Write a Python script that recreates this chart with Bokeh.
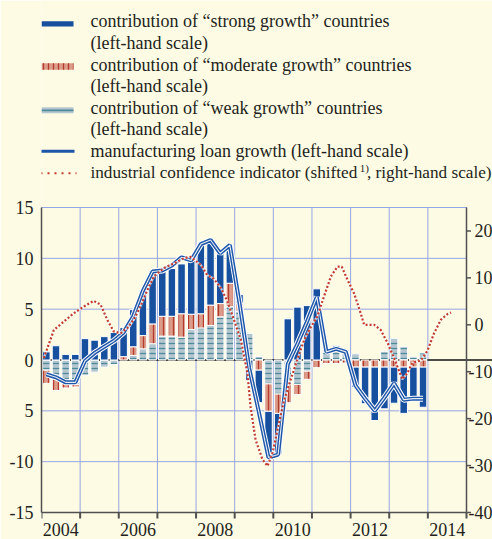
from bokeh.plotting import figure
from bokeh.models import Range1d, FixedTicker, Span, ColumnDataSource
from bokeh.embed import file_html
from bokeh.resources import INLINE
from bokeh.core.properties import value

# ---------------- data ----------------
years = list(range(2004, 2016))
year_labels = ["2004", "2006", "2008", "2010", "2012", "2014"]
n_quarters = 40  # 2004Q1 .. 2013Q4

strong = [0.8, 1.4, 0.55, 0.55, 2.1, 1.95, 2.3, 2.7, 2.85, 3.65,
          4.45, 5.2, 4.45, 4.7, 4.9, 5.6, 6.85, 6.2, 4.95, 3.8,
          0.85, -2.0, -3.2, -4.1, -4.0, 4.05, 5.2, 5.35, 7.0, 0.3,
          0.3, 0.1, -2.0, -3.6, -5.25, -4.1, -3.55, -4.55, -2.9, -3.95]
moderate = [-1.3, -1.15, -0.45, -0.25, 0, 0, 0, 0, 0.33, 0.85,
            1.3, 1.95, 1.95, 1.95, 2.3, 1.5, 1.4, 2.0, 1.3, 2.3,
            0.8, 0, -1.0, -2.7, -1.9, -1.8, -1.0, -0.8, -0.75, -0.35,
            -0.35, -0.3, -0.7, -0.7, -0.7, -0.7, -0.7, -0.7, -0.7, -0.7]
weak = [-1.0, -1.85, -2.3, -2.4, -1.5, -1.2, -0.7, -0.45, 0, 0.45,
        1.1, 1.6, 2.35, 2.35, 2.25, 3.0, 3.15, 3.4, 4.25, 5.25,
        4.8, 2.6, 0.35, -2.35, -3.35, -2.4, -2.4, -1.1, 0, 0.8,
        1.1, 0.9, 0.6, 0, 0, 0.85, 2.1, 1.3, 0.3, 0.7]
loan = [-1.4, -1.7, -2.2, -2.2, -0.1, 0.7, 1.3, 1.9, 2.7, 4.3,
        6.8, 8.7, 8.8, 9.3, 10.1, 9.8, 11.4, 11.8, 10.5, 11.3,
        5.6, -0.8, -5.1, -9.6, -9.3, -0.4, 1.6, 3.8, 6.2, 0.8,
        1.1, 0.8, -2.5, -3.8, -5.0, -3.7, -2.3, -3.9, -3.8, -3.8]

ici_dates = [2004.06, 2004.32, 2004.58, 2004.84, 2005.10, 2005.35, 2005.53, 2005.70,
             2005.87, 2006.05, 2006.22, 2006.39, 2006.56, 2006.74, 2006.91, 2007.17,
             2007.43, 2007.69, 2007.86, 2008.12, 2008.29, 2008.46, 2008.64, 2008.81,
             2008.98, 2009.16, 2009.33, 2009.41, 2009.54, 2009.72, 2009.85, 2009.98,
             2010.11, 2010.28, 2010.45, 2010.62, 2010.80, 2010.97, 2011.14, 2011.31,
             2011.49, 2011.66, 2011.77, 2011.92, 2012.09, 2012.26, 2012.35, 2012.61,
             2012.78, 2012.96, 2013.13, 2013.34, 2013.47, 2013.60, 2013.82, 2013.99,
             2014.16, 2014.34, 2014.51, 2014.60]
ici_values = [-7.1, -1.1, 0.7, 2.5, 3.9, 5.1, 4.3, 1.1,
              -1.4, -1.8, -0.7, 1.1, 3.9, 7.4, 10.3, 12.1,
              13.1, 14.2, 14.5, 12.8, 10.6, 9.8, 7.9, 5.0,
              1.1, -3.2, -10.3, -17.4, -24.5, -28.7, -30.1, -27.3,
              -22.3, -16.0, -11.7, -7.4, -3.2, -0.5, 1.8, 6.0,
              10.3, 12.4, 12.4, 9.6, 6.7, 2.5, 0.0, 0.0,
              -1.1, -3.9, -7.2, -11.6, -10.3, -8.1, -7.6, -5.5,
              -1.8, 1.1, 2.3, 2.6]

left_ticks = [-15, -10, -5, 0, 5, 10, 15]
left_labels = ["-15", "-10", "5", "0", "5", "10", "15"]
right_ticks = [-40, -30, -20, -10, 0, 10, 20]
right_labels = ["-40", "-30", "-20", "-10", "0", "10", "20"]

legend_lines = [
    "contribution of \u201cstrong growth\u201d countries",
    "(left-hand scale)",
    "contribution of \u201cmoderate growth\u201d countries",
    "(left-hand scale)",
    "contribution of \u201cweak growth\u201d countries",
    "(left-hand scale)",
    "manufacturing loan growth (left-hand scale)",
]
ici_legend = ["industrial confidence indicator (shifted", "1)", ", right-hand scale)"]

# ---------------- style / geometry ----------------
BG = "#fdfbe4"
GRID = "#96a5e3"
STRONG = "#17509f"
MOD_FILL = "#dc9c89"
MOD_LINE = "#b33a2c"
WEAK_FILL = "#b4c6cf"
WEAK_LINE = "#4f8a9a"
LOAN = "#1d56a8"
ICI = "#c23b30"
TXT = "#231f20"
AX = "#505050"
FONT = "Liberation Serif"

W, H = 492, 539
FL, FR, FT, FB = 41, 466, 207, 512      # chart area in canvas pixels
X0, X1, Y0, Y1 = 2004, 2015, -15, 15    # left-scale data range of the chart area
R0, R1 = -40, 25                        # right-scale data range of the chart area


def X(px):   # canvas pixel -> x data
    return X0 + (px - FL) * (X1 - X0) / (FR - FL)


def Y(py):   # canvas pixel -> left-scale data
    return Y1 - (py - FT) * (Y1 - Y0) / (FB - FT)


def YR(py):  # canvas pixel -> right-scale data
    return R1 - (py - FT) * (R1 - R0) / (FB - FT)


# The frame reaches the top, right and bottom canvas edges so that the legend,
# the right-hand scale and the year labels are drawn inside it; the left axis is
# a real axis bounded to the chart area.
p = figure(width=W, height=H, x_range=Range1d(X0, X(W)), y_range=Range1d(Y(H), Y(0)),
           toolbar_location=None, output_backend="svg", x_axis_location=None,
           min_border_left=FL, min_border_right=0, min_border_top=0, min_border_bottom=0,
           background_fill_color=BG, border_fill_color=BG, outline_line_color=None)
p.extra_y_ranges = {"ici": Range1d(YR(H), YR(0))}
p.xgrid.visible = False
p.ygrid.visible = False

# grid (restricted to the chart area)
p.segment(x0=years, y0=[Y0] * len(years), x1=years, y1=[Y1] * len(years),
          line_color=GRID, line_width=1, level="underlay")
gy = [t for t in left_ticks if t != 0]
p.segment(x0=[X0] * len(gy), y0=gy, x1=[X1] * len(gy), y1=gy,
          line_color=GRID, line_width=1, level="underlay")
# zero line
p.add_layout(Span(location=0, dimension="width", line_color="#111111", line_width=1.3,
                  level="underlay"))

# left axis
ya = p.yaxis[0]
ya.bounds = (Y0, Y1)
ya.ticker = FixedTicker(ticks=left_ticks)
ya.major_label_overrides = {t: s for t, s in zip(left_ticks, left_labels)}
ya.major_tick_line_color = None
ya.minor_tick_line_color = None
ya.major_tick_out = 0
ya.axis_line_color = AX
ya.axis_line_width = 1.5
ya.major_label_standoff = 8
ya.major_label_text_font = FONT
ya.major_label_text_font_size = "18px"
ya.major_label_text_color = TXT

# bottom scale: axis line, ticks at year boundaries, labels in mid-year
p.segment(x0=[X0], y0=[Y0], x1=[X1], y1=[Y0], line_color=AX, line_width=1.5)
p.segment(x0=years, y0=[Y0] * len(years), x1=years, y1=[Y(518)] * len(years),
          line_color=AX, line_width=2)
p.text(x=[int(s) + 0.5 for s in year_labels], y=[Y(529.3)] * len(year_labels),
       text=year_labels, text_align="center", text_baseline="middle",
       text_font=value(FONT), text_font_size="18px", text_color=TXT)

# right-hand scale: axis line, ticks and labels
p.segment(x0=[X1], y0=[R0], x1=[X1], y1=[R1], y_range_name="ici",
          line_color=AX, line_width=1.5)
p.segment(x0=[X1] * len(right_ticks), y0=right_ticks, x1=[X(470.5)] * len(right_ticks),
          y1=right_ticks, y_range_name="ici", line_color=AX, line_width=1.5)
rx = [X(468) if s.startswith("-") else X(474) for s in right_labels]
p.text(x=rx, y=right_ticks, text=right_labels, y_range_name="ici", text_align="left",
       text_baseline="middle", text_font=value(FONT), text_font_size="18px",
       text_color=TXT)

# stacked bars: weak next to zero, then moderate, then strong
dates = [2004 + (i + 0.5) / 4 for i in range(n_quarters)]
pos = [0.0] * n_quarters
neg = [0.0] * n_quarters
stacks = {}
for name, vals in (("weak", weak), ("moderate", moderate), ("strong", strong)):
    xs, tops, bots = [], [], []
    for i, v in enumerate(vals):
        if v > 0:
            xs.append(dates[i]); bots.append(pos[i]); tops.append(pos[i] + v); pos[i] += v
        elif v < 0:
            xs.append(dates[i]); tops.append(neg[i]); bots.append(neg[i] + v); neg[i] += v
    stacks[name] = ColumnDataSource(dict(x=xs, top=tops, bottom=bots))

BW = 0.195
p.vbar(x="x", top="top", bottom="bottom", width=BW, source=stacks["weak"],
       fill_color=WEAK_FILL, line_color="white", line_width=1,
       hatch_pattern="horizontal_line", hatch_color=WEAK_LINE, hatch_scale=5, hatch_weight=1.3)
p.vbar(x="x", top="top", bottom="bottom", width=BW, source=stacks["moderate"],
       fill_color=MOD_FILL, line_color="white", line_width=1,
       hatch_pattern="vertical_line", hatch_color=MOD_LINE, hatch_scale=5, hatch_weight=1.3)
p.vbar(x="x", top="top", bottom="bottom", width=BW, source=stacks["strong"],
       fill_color=STRONG, line_color="white", line_width=1)

# manufacturing loan growth: blue double line with white halo
p.line(dates, loan, line_color="white", line_width=6)
p.line(dates, loan, line_color=LOAN, line_width=4)
p.line(dates, loan, line_color="white", line_width=1.1, line_alpha=0.9)

# industrial confidence indicator (right-hand scale)
p.line(ici_dates, ici_values, y_range_name="ici", line_color="white", line_width=2.2,
       line_alpha=0.7)
p.line(ici_dates, ici_values, y_range_name="ici", line_color=ICI, line_width=2.2,
       line_dash="2 2")

# ---------------- legend (above the chart area) ----------------
p.quad(left=[X(41)], right=[X(73)], top=[Y(20.7)], bottom=[Y(26.0)],
       fill_color=STRONG, line_color=None)
p.quad(left=[X(41)], right=[X(73)], top=[Y(62.7)], bottom=[Y(69.3)],
       fill_color=MOD_FILL, line_color=None, hatch_pattern="vertical_line",
       hatch_color=MOD_LINE, hatch_scale=5, hatch_weight=1.3)
p.quad(left=[X(41)], right=[X(73)], top=[Y(106.7)], bottom=[Y(112.7)],
       fill_color=WEAK_FILL, line_color=None)
p.quad(left=[X(41)], right=[X(73)], top=[Y(109.0)], bottom=[Y(110.8)],
       fill_color=WEAK_LINE, line_color=None)
p.line([X(40), X(74)], [Y(150.8), Y(150.8)], line_color=LOAN, line_width=3)
p.line([X(40), X(76)], [Y(172.7), Y(172.7)], line_color=ICI, line_width=2,
       line_dash="2 5")

middles = [20.9, 42.5, 64.1, 85.7, 107.3, 128.9, 150.5]
p.text(x=[X(90)] * len(middles), y=[Y(m) for m in middles], text=legend_lines,
       text_align="left", text_baseline="middle", text_font=value(FONT),
       text_font_size="18px", text_color=TXT)
p.text(x=[X(90), X(366.5)], y=[Y(172.3), Y(172.3)], text=[ici_legend[0], ici_legend[2]],
       text_align="left", text_baseline="middle", text_font=value(FONT),
       text_font_size="17.2px", text_color=TXT)
p.text(x=[X(359.3)], y=[Y(167.6)], text=[ici_legend[1]], text_align="left",
       text_baseline="middle", text_font=value(FONT), text_font_size="11px",
       text_color=TXT)

open("out.html", "w").write(file_html(p, INLINE))
